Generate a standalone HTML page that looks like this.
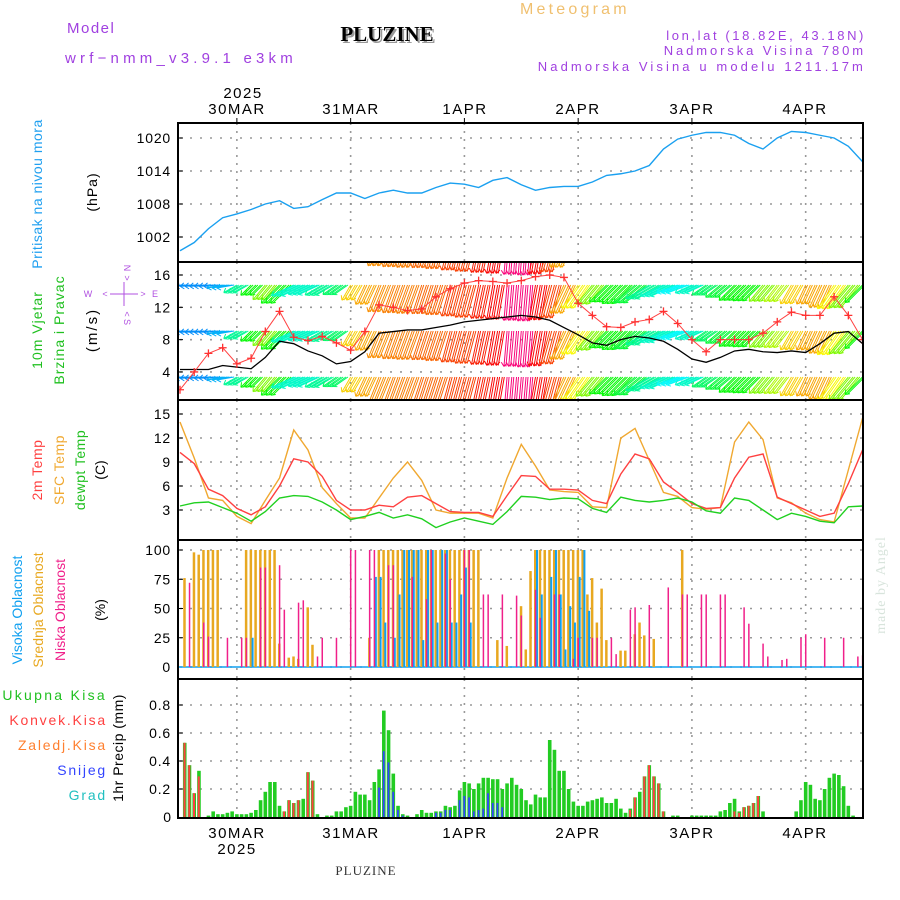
<!DOCTYPE html>
<html><head><meta charset="utf-8"><title>Meteogram PLUZINE</title>
<style>
html,body{margin:0;padding:0;background:#fff;}
svg{display:block;font-family:"Liberation Sans",sans-serif;}
</style></head>
<body>
<svg id="chart" width="900" height="900" viewBox="0 0 900 900" xmlns="http://www.w3.org/2000/svg">
<defs>
<clipPath id="cp1"><rect x="178" y="123" width="685" height="139"/></clipPath>
<clipPath id="cp2"><rect x="178" y="262" width="685" height="138"/></clipPath>
<clipPath id="cp3"><rect x="178" y="400" width="685" height="140"/></clipPath>
<clipPath id="cp4"><rect x="178" y="540" width="685" height="139"/></clipPath>
<clipPath id="cp5"><rect x="178" y="679" width="685" height="139"/></clipPath>
</defs>
<g>
<text x="67" y="33" font-size="15" fill="#a040e0" letter-spacing="1.5">Model</text>
<text x="65" y="63" font-size="15" fill="#a040e0" letter-spacing="4.2">wrf−nmm_v3.9.1 e3km</text>
<text x="389" y="43" font-size="21" font-weight="bold" font-family="Liberation Serif, serif" fill="#999" text-anchor="middle">PLUZINE</text>
<text x="387" y="41" font-size="21" font-weight="bold" font-family="Liberation Serif, serif" fill="#000" text-anchor="middle">PLUZINE</text>
<text x="520" y="14" font-size="16" fill="#f0c070" letter-spacing="3.2">Meteogram</text>
<text x="866" y="40" font-size="13" fill="#a040e0" text-anchor="end" letter-spacing="2.6">lon,lat (18.82E, 43.18N)</text>
<text x="866" y="55" font-size="13" fill="#a040e0" text-anchor="end" letter-spacing="2.9">Nadmorska Visina 780m</text>
<text x="866" y="71" font-size="13" fill="#a040e0" text-anchor="end" letter-spacing="3.1">Nadmorska Visina u modelu 1211.17m</text>
<text x="243" y="98" font-size="15" text-anchor="middle" letter-spacing="1.5">2025</text>
<text x="237" y="114" font-size="15" text-anchor="middle" letter-spacing="1.5">30MAR</text>
<text x="351" y="114" font-size="15" text-anchor="middle" letter-spacing="1.5">31MAR</text>
<text x="465" y="114" font-size="15" text-anchor="middle" letter-spacing="1.5">1APR</text>
<text x="578" y="114" font-size="15" text-anchor="middle" letter-spacing="1.5">2APR</text>
<text x="692" y="114" font-size="15" text-anchor="middle" letter-spacing="1.5">3APR</text>
<text x="805" y="114" font-size="15" text-anchor="middle" letter-spacing="1.5">4APR</text>
<text x="237" y="838" font-size="15" text-anchor="middle" letter-spacing="1.5">30MAR</text>
<text x="237" y="854" font-size="15" text-anchor="middle" letter-spacing="1.5">2025</text>
<text x="351" y="838" font-size="15" text-anchor="middle" letter-spacing="1.5">31MAR</text>
<text x="465" y="838" font-size="15" text-anchor="middle" letter-spacing="1.5">1APR</text>
<text x="578" y="838" font-size="15" text-anchor="middle" letter-spacing="1.5">2APR</text>
<text x="692" y="838" font-size="15" text-anchor="middle" letter-spacing="1.5">3APR</text>
<text x="805" y="838" font-size="15" text-anchor="middle" letter-spacing="1.5">4APR</text>
<text x="366" y="875" font-size="13" font-family="Liberation Serif, serif" fill="#333" text-anchor="middle" letter-spacing="1">PLUZINE</text>
<text transform="translate(885,585) rotate(-90)" font-size="14" font-family="Liberation Serif, serif" fill="#d8e4dc" text-anchor="middle" letter-spacing="1">made by Angel</text>
</g>
<g>
<text transform="translate(42,194) rotate(-90)" font-size="14" fill="#20a0f0" text-anchor="middle" letter-spacing="0.5">Pritisak na nivou mora</text>
<text transform="translate(97,192) rotate(-90)" font-size="14" text-anchor="middle" letter-spacing="1">(hPa)</text>
<text transform="translate(42,330) rotate(-90)" font-size="14" fill="#20c020" text-anchor="middle" letter-spacing="1">10m Vjetar</text>
<text transform="translate(64,330) rotate(-90)" font-size="14" fill="#20c020" text-anchor="middle" letter-spacing="1">Brzina i Pravac</text>
<text transform="translate(97,330) rotate(-90)" font-size="15" text-anchor="middle" letter-spacing="2">(m/s)</text>
<g fill="#b050e0" font-size="9">
<text x="124" y="268" text-anchor="middle" transform="rotate(90 124 268)">N</text>
<text x="124" y="278" text-anchor="middle" transform="rotate(90 124 278)">&gt;</text>
<text x="88" y="297" text-anchor="middle">W</text>
<text x="105" y="297" text-anchor="middle">&lt;</text>
<text x="143" y="297" text-anchor="middle">&gt;</text>
<text x="155" y="297" text-anchor="middle">E</text>
<line x1="110" y1="294" x2="138" y2="294" stroke="#b050e0" stroke-width="1"/>
<line x1="124" y1="282" x2="124" y2="306" stroke="#b050e0" stroke-width="1"/>
<text x="124" y="314" text-anchor="middle" transform="rotate(90 124 314)">&lt;</text>
<text x="124" y="322" text-anchor="middle" transform="rotate(90 124 322)">S</text>
</g>
<text transform="translate(42,470) rotate(-90)" font-size="14" fill="#ff4040" text-anchor="middle" letter-spacing="0.5">2m Temp</text>
<text transform="translate(64,470) rotate(-90)" font-size="14" fill="#f0a830" text-anchor="middle" letter-spacing="0.5">SFC Temp</text>
<text transform="translate(85,470) rotate(-90)" font-size="14" fill="#20c020" text-anchor="middle" letter-spacing="0.5">dewpt Temp</text>
<text transform="translate(105,470) rotate(-90)" font-size="14" text-anchor="middle">(C)</text>
<text transform="translate(22,610) rotate(-90)" font-size="14" fill="#10a0f0" text-anchor="middle">Visoka Oblacnost</text>
<text transform="translate(43,610) rotate(-90)" font-size="14" fill="#e8a820" text-anchor="middle">Srednja Oblacnost</text>
<text transform="translate(65,610) rotate(-90)" font-size="14" fill="#f0208a" text-anchor="middle">Niska Oblacnost</text>
<text transform="translate(105,610) rotate(-90)" font-size="14" text-anchor="middle">(%)</text>
<text x="107" y="700" font-size="14" fill="#20c020" text-anchor="end" letter-spacing="2.3">Ukupna Kisa</text>
<text x="107" y="725" font-size="14" fill="#ff4040" text-anchor="end" letter-spacing="1.8">Konvek.Kisa</text>
<text x="107" y="750" font-size="14" fill="#ff8030" text-anchor="end" letter-spacing="1.8">Zaledj.Kisa</text>
<text x="107" y="775" font-size="14" fill="#3344ff" text-anchor="end" letter-spacing="1.8">Snijeg</text>
<text x="107" y="800" font-size="14" fill="#20c0c0" text-anchor="end" letter-spacing="1.8">Grad</text>
<text transform="translate(123,748) rotate(-90)" font-size="14" text-anchor="middle" letter-spacing="0.5">1hr Precip (mm)</text>
</g>
</svg>
<script>
// ---------- data (3-hourly, hour 0 = 29MAR 12Z) ----------
const pressure = [999.5,1001,1003.5,1005.5,1006.2,1007,1008,1008.6,1007.2,1007.5,1008.8,1010,1010,1009,1010,1010.5,1010,1010,1011,1011.8,1011.6,1011,1012.3,1012.8,1011.5,1010.5,1011,1011.2,1011.2,1012,1013.2,1013.5,1014,1015,1018,1019.8,1020.5,1021,1021,1020.5,1019,1018,1020,1021.2,1021,1020.5,1020,1018.5,1015.7];
const windSpeed = [4.3,4.3,4.3,4.8,4.6,4.4,5.8,7.8,7.5,6.6,6.0,5.0,5.3,6.5,8.8,9.0,9.2,9.2,9.5,9.8,10.2,10.4,10.6,10.8,11.0,10.8,10.4,9.5,8.6,7.6,7.3,8.0,8.4,8.2,7.8,6.8,5.6,5.2,5.8,6.6,6.8,6.5,6.4,6.6,6.4,7.5,8.8,9.0,7.5];
const windGust = [1.8,4.0,6.3,7.0,5.0,5.7,9.0,11.5,8.3,7.9,8.4,7.6,6.7,9.0,12.3,12.0,11.6,11.8,13.3,14.3,15.0,15.3,15.2,15.0,15.3,15.8,16.0,15.7,12.5,11.0,9.6,9.5,10.2,10.5,11.5,10.0,8.0,6.5,8.0,8.0,8.0,8.8,10.2,11.4,11.0,11.0,13.3,11.0,8.0];
const windDir = [85,85,85,80,60,45,40,45,65,65,60,55,30,25,22,20,20,18,18,15,15,12,10,5,5,10,15,25,35,40,45,45,50,60,65,70,65,55,50,45,45,40,38,30,25,25,35,40,45];
const temp2m = [10.2,8.8,5.6,4.8,3.2,2.4,3.4,6.0,9.4,9.0,7.2,4.2,3.0,3.0,3.6,3.4,4.6,4.8,3.8,2.8,2.7,2.7,2.2,4.8,7.3,7.2,5.6,5.6,5.5,4.2,3.8,7.5,10.0,9.4,6.5,5.2,3.8,3.2,3.3,7.0,9.6,10.0,4.6,3.8,3.0,2.2,2.6,6.3,10.5];
const tempSfc = [14.0,9.5,4.5,4.2,2.2,1.3,4.2,7.0,13.0,10.5,5.8,3.8,2.0,2.0,4.5,7.0,9.0,6.7,3.0,2.6,2.6,2.6,2.0,7.0,11.2,8.5,5.5,5.3,5.2,3.4,3.3,12.0,13.2,9.2,5.2,4.7,3.3,3.1,3.3,11.5,14.0,11.8,4.5,3.9,2.6,1.8,1.5,8.0,14.5];
const tempDew = [3.5,3.9,4.0,3.3,2.6,1.6,2.8,4.5,4.8,4.7,4.0,3.0,1.8,2.2,2.7,2.0,2.4,1.9,0.8,1.5,2.0,1.6,1.2,2.8,4.7,4.6,4.3,4.5,4.4,3.2,2.7,4.6,4.2,4.0,4.2,4.5,4.0,2.9,2.6,4.5,4.2,3.0,1.8,2.6,2.2,1.6,1.4,3.4,3.5];
// clouds (hourly, sparse: hours + percent)
const lowHours = [2,5,6,10,13,14,17,18,21,22,25,26,29,30,33,36,37,40,41,44,45,49,52,53,56,57,60,61,64,65,68,71,72,75,76,79,80,83,84,87,88,91,92,95,96,99,103,106,107,110,111,114,115,119,120,123,124,127,128,131,132,136,140,143,144];
const lowVals  = [72,38,26,25,25,25,85,85,87,49,55,57,9,25,25,100,100,100,100,87,87,77,58,100,97,75,100,100,62,62,62,61,44,66,42,62,62,7,25,25,25,25,11,49,51,53,68,62,62,62,62,62,62,51,37,20,9,6,7,25,28,25,25,9,10];
const midHours = [1,3,4,5,6,7,8,14,15,16,17,18,19,20,21,23,24,25,27,28,40,42,43,44,45,46,47,48,49,50,51,52,53,54,55,56,57,58,59,60,61,62,63,67,69,72,73,74,75,76,77,78,79,80,81,82,83,84,85,86,87,88,89,90,93,94,96,97,98,100,106];
const midVals  = [76,98,96,100,100,100,100,100,100,100,100,100,100,100,20,8,9,7,51,19,25,100,100,100,100,100,100,100,100,100,100,100,100,100,100,100,100,100,100,100,100,100,100,23,18,52,15,82,100,100,100,100,100,100,100,100,100,100,100,62,76,38,67,23,14,14,28,38,27,24,100];
const highHours = [15,41,42,43,45,46,47,48,49,50,51,52,53,54,55,56,57,58,59,60,61,75,76,78,79,80,81,82,83,84,85,86];
const highVals  = [25,77,77,38,25,62,100,100,100,100,23,100,100,38,100,100,38,38,62,85,38,100,62,77,100,62,15,52,38,77,100,48];
// precipitation (hourly, mm)
const precipTotal = [0,.53,.37,.17,.33, 0,.01,.04,.02,.02, .03,.04,.02,.02,.02, .03,.05,.12,.18,.25, .25,.08,.04,.12,.1, .12,.13,.32,.26,.02, 0,.01,.01,.04,.04, .07,.08,.18,.16,.16, .12,.25,.34,.76,.62, .31,.08,.02,.01,0, .02,.05,.03,.03,.04, .04,.08,.07,.08,.19, .25,.24,.2,.24,.28, .28,.27,.27,.2,.24, .28,.23,.2,.12,.09, .16,.14,.14,.55,.48, .33,.33,.2,.11,.08, .08,.11,.12,.13,.14, .1,.1,.13,.06,.03, .06,.14,.18,.29,.37, .29,.24,.04,0,.01, .01,0,0,.01,.01, .01,.01,.01,.01,.04, .05,.1,.13,.04,.07, .08,.1,.15,.04,0, 0,0,0,0,0, .04,.12,.25,.23,.13, .12,.2,.28,.31,.3, .22,.08,.01,0,0];
const convHours = [1,2,3,4,22,23,24,25,27,28,95,96,98,99,100,101,102,117,118,119,120,121,122];
const convVals  = [.53,.37,.17,.29,.04,.12,.1,.12,.32,.26,.05,.14,.29,.37,.29,.24,.04,.04,.03,.07,.08,.1,.15];
const snowHours = [42,43,44,45,46,47,54,55,56,57,59,60,61,62,63,64,65,66,67,68];
const snowVals  = [.21,.47,.39,.18,.05,.01,.03,.03,.05,.05,.12,.15,.14,.04,.05,.06,.17,.1,.1,.07];
const pTicks = [1002,1008,1014,1020];
const wTicks = [4,8,12,16];
const tTicks = [3,6,9,12,15];
const cTicks = [0,25,50,75,100];
const rTicks = [0.2,0.4,0.6,0.8];
const dayHours = [12,36,60,84,108,132];

// ---------- scales ----------
const NS = "http://www.w3.org/2000/svg";
const svg = document.getElementById('chart');
const X = h => 180 + 4.74 * h;
const Yp = p => 138 + (1020 - p) * 5.5;
const Yw = v => 275 + (16 - v) * 8.08;
const Yt = t => 414 + (15 - t) * 8.0;
const Yc = c => 667 - c * 1.17;
const Yr = m => 817 - m * 140;
const panels = [[123,262,'pressure'],[262,400,'wind'],[400,540,'temperature'],[540,679,'cloud'],[679,818,'precip']];

function mk(tag, attrs, parent) {
  const e = document.createElementNS(NS, tag);
  for (const k in attrs) e.setAttribute(k, attrs[k]);
  (parent || svg).appendChild(e);
  return e;
}
function grp(name, clip) {
  const g = mk('g', clip ? {'clip-path': 'url(#' + clip + ')'} : {});
  
  
  return g;
}

// ---------- grids ----------
const grid = grp('grid-lines');
panels.forEach(([y0, y1]) => {
  dayHours.forEach(h => {
    const l = mk('line', {x1: X(h), x2: X(h), y1: y0, y2: y1, stroke: '#999', 'stroke-width': 1.6, 'stroke-dasharray': '2,6'}, grid);
    
    
  });
});
function hTicks(ticks, Y, name, fmt) {
  const g = grp(name + '-axis');
  ticks.forEach(v => {
    const y = Y(v);
    const l = mk('line', {x1: 180, x2: 862, y1: y, y2: y, stroke: '#999', 'stroke-width': 1.6, 'stroke-dasharray': '2,8'}, g);
    
    
    const tk = mk('line', {x1: 178, x2: 183, y1: y, y2: y, stroke: '#000', 'stroke-width': 1}, g);
    
    
    const t = mk('text', {x: 171, y: y + 5, 'font-size': 14, 'text-anchor': 'end', 'letter-spacing': 0.8}, g);
    t.textContent = fmt ? fmt(v) : String(v);
    
    
  });
}
hTicks(pTicks, Yp, 'pressure');
hTicks(wTicks, Yw, 'wind');
hTicks(tTicks, Yt, 'temperature');
hTicks(cTicks, Yc, 'cloud');
hTicks(rTicks, Yr, 'precip', v => v.toFixed(1));
const z = mk('text', {x: 171, y: Yr(0) + 5, 'font-size': 14, 'text-anchor': 'end'});
z.textContent = '0';



// ---------- pressure ----------
const gp = grp('pressure-series', 'cp1');
const pl = mk('polyline', {points: pressure.map((p, i) => X(i * 3) + ',' + Yp(p)).join(' '), fill: 'none', stroke: '#1aa0f0', 'stroke-width': 1.4}, gp);



// ---------- wind ----------
const hueAnch = [[3,320],[10,0],[20,30],[35,60],[45,120],[70,180],[90,215]];
function dirHue(d) {
  if (d <= hueAnch[0][0]) return hueAnch[0][1];
  for (let i = 1; i < hueAnch.length; i++) {
    if (d <= hueAnch[i][0]) {
      const [a0, h0] = hueAnch[i - 1], [a1, h1] = hueAnch[i];
      let hh0 = h0, hh1 = h1;
      if (hh0 > 300 && hh1 < 60) hh1 += 360;
      return ((hh0 + (d - a0) / (a1 - a0) * (hh1 - hh0)) % 360);
    }
  }
  return hueAnch[hueAnch.length - 1][1];
}
const gw = grp('wind-series', 'cp2');
const rowBases = [239, 285, 331, 377];
for (let h = 0; h <= 144; h++) {
  const k = Math.min(48, Math.floor(h / 3));
  const d = windDir[k] * Math.PI / 180, L = windSpeed[k] * 3.3;
  const col = 'hsl(' + dirHue(windDir[k]) + ',95%,50%)';
  const ux = -Math.sin(d), uy = Math.cos(d);
  rowBases.forEach(yb => {
    const x = X(h), ex = x + ux * L, ey = yb + uy * L;
    const b = mk('path', {d: `M${x},${yb}L${ex},${ey}M${ex},${ey}l${-ux*4 - uy*3},${-uy*4 + ux*3}M${ex},${ey}l${-ux*4 + uy*3},${-uy*4 - ux*3}M${x+2},${yb}L${ex+2},${ey}`, stroke: col, 'stroke-width': 1, fill: 'none'}, gw);
    
    
  });
}
const ws = mk('polyline', {points: windSpeed.map((v, i) => X(i * 3) + ',' + Yw(v)).join(' '), fill: 'none', stroke: '#000', 'stroke-width': 1.3}, gw);


const wg = mk('polyline', {points: windGust.map((v, i) => X(i * 3) + ',' + Yw(v)).join(' '), fill: 'none', stroke: '#ff4040', 'stroke-width': 1}, gw);


windGust.forEach((v, i) => {
  const x = X(i * 3), y = Yw(v);
  const m = mk('path', {d: `M${x-4},${y}H${x+4}M${x},${y-4}V${y+4}`, stroke: '#ff3030', 'stroke-width': 1.3}, gw);
  
  
});

// ---------- temperature ----------
const gt = grp('temperature-series', 'cp3');
[[tempSfc, '#f0a830', 'sfc-temp-line'], [temp2m, '#ff4040', '2m-temp-line'], [tempDew, '#20d020', 'dewpoint-line']].forEach(([arr, c, n]) => {
  const l = mk('polyline', {points: arr.map((v, i) => X(i * 3) + ',' + Yt(v)).join(' '), fill: 'none', stroke: c, 'stroke-width': 1.4}, gt);
  
  
});

// ---------- clouds ----------
const gc = grp('cloud-series', 'cp4');
const base = mk('line', {x1: 178, x2: 863, y1: Yc(0), y2: Yc(0), stroke: '#10a0f0', 'stroke-width': 1.5}, gc);


midHours.forEach((h, i) => {
  const r = mk('rect', {x: X(h) - 1.5, y: Yc(midVals[i]), width: 2.5, height: Yc(0) - Yc(midVals[i]), fill: '#e8a820'}, gc);
  
  
});
highHours.forEach((h, i) => {
  const r = mk('rect', {x: X(h) + 0.5, y: Yc(highVals[i]), width: 2, height: Yc(0) - Yc(highVals[i]), fill: '#10a0f0'}, gc);
  
  
});
lowHours.forEach((h, i) => {
  const r = mk('rect', {x: X(h) - 0.7, y: Yc(lowVals[i]), width: 1.5, height: Yc(0) - Yc(lowVals[i]), fill: '#f0208a'}, gc);
  
  
});

// ---------- precipitation ----------
const gr = grp('precip-series', 'cp5');
precipTotal.forEach((v, h) => {
  if (v <= 0) return;
  const r = mk('rect', {x: X(h) - 1.8, y: Yr(v), width: 3.6, height: Yr(0) - Yr(v), fill: '#22cc22'}, gr);
  
  
});
convHours.forEach((h, i) => {
  const r = mk('rect', {x: X(h) - 1.2, y: Yr(convVals[i]), width: 2, height: Yr(0) - Yr(convVals[i]), fill: '#ff4040'}, gr);
  
  
});
snowHours.forEach((h, i) => {
  const r = mk('rect', {x: X(h) - 1, y: Yr(snowVals[i]), width: 1.8, height: Yr(0) - Yr(snowVals[i]), fill: '#3344ff'}, gr);
  
  
});

// ---------- panel frames ----------
panels.forEach(([y0, y1, n]) => {
  const r = mk('rect', {x: 178, y: y0, width: 685, height: y1 - y0, fill: 'none', stroke: '#000', 'stroke-width': 2});
  
  
});
dayHours.forEach(h => {
  const t = mk('line', {x1: X(h), x2: X(h), y1: 118, y2: 123, stroke: '#000', 'stroke-width': 1});
  
  
});
</script>
</body></html>
